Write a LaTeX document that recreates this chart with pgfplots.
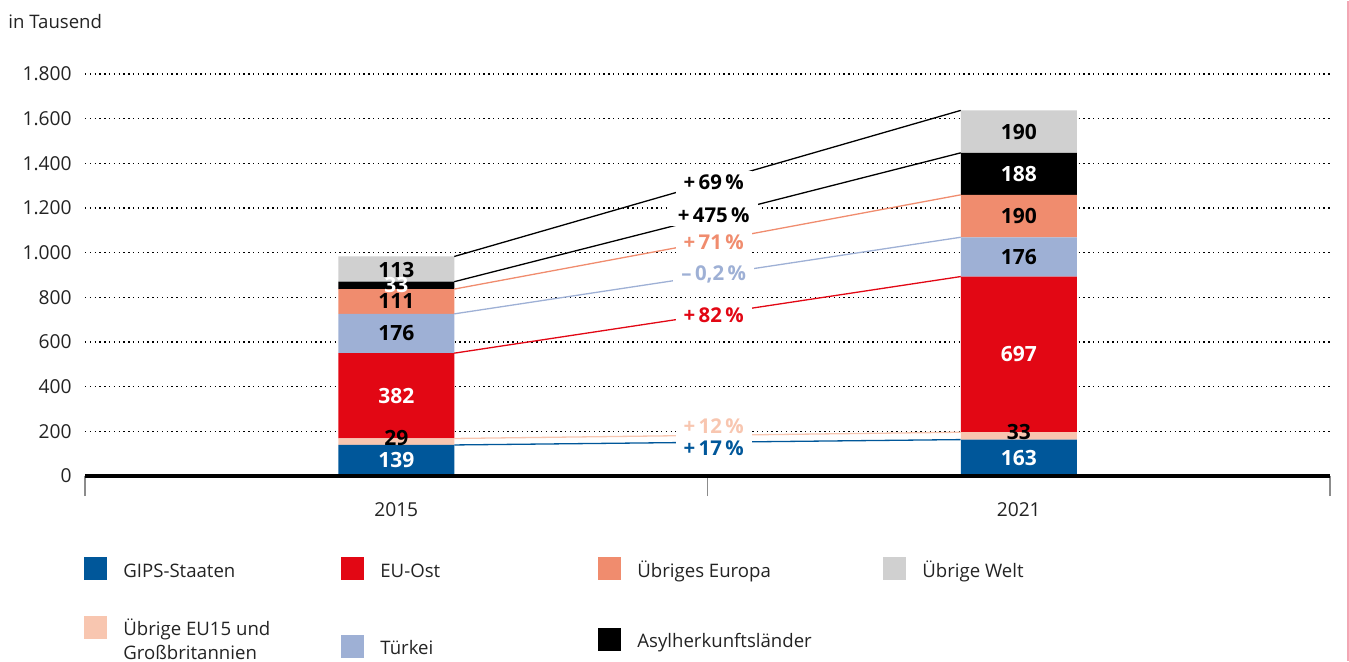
\documentclass[border=0pt]{standalone}
\usepackage{fontspec}
\setmainfont{Open Sans}
\usepackage{pgfplots}
\pgfplotsset{compat=1.18}
\definecolor{cGIPS}{RGB}{0,87,154}
\definecolor{cEUOst}{RGB}{226,7,20}
\definecolor{cEUfz}{RGB}{248,198,176}
\definecolor{cTuerkei}{RGB}{158,176,213}
\definecolor{cEuropa}{RGB}{240,140,110}
\definecolor{cAsyl}{RGB}{0,0,0}
\definecolor{cWelt}{RGB}{208,208,208}
\definecolor{cText}{RGB}{35,35,35}
\definecolor{cPink}{RGB}{244,166,180}
\pgfplotsset{
  base/.style={scale only axis, width=622.5pt, height=201pt, xmin=0, xmax=2,
    ymin=0, ymax=1800, at={(42.5pt,-237.5pt)}, anchor=south west, clip=false},
}
\tikzset{
  lab/.style={font=\bfseries\fontsize{10.5}{12}\selectfont, inner sep=0pt},
  pl/.style={font=\bfseries\fontsize{10.2}{12}\selectfont, fill=white, inner xsep=4pt, inner ysep=2pt},
  leg/.style={font=\fontsize{9.3}{11}\selectfont, text=cText, anchor=base west, inner sep=0pt},
}
\begin{document}
\begin{tikzpicture}
\begin{scope}[x=0.5pt,y=-0.5pt]
\path[use as bounding box] (0,0) rectangle (1349,660);
\end{scope}
\begin{axis}[base, ybar stacked, bar width=58pt,
  axis line style={draw=none},
  ymajorgrids, grid style={black, line width=0.7pt, dash pattern=on 0.7pt off 1.7pt},
  ytick={0,200,...,1800}, ytick style={draw=none}, ytick pos=left,
  xtick={0.5,1.5}, xticklabels={2015,2021}, minor xtick={0,1,2}, xtick pos=bottom,
  major x tick style={draw=none}, minor x tick style={draw=black!45, line width=0.8pt},
  tick align=outside, major tick length=0pt, minor tick length=10pt,
  ticklabel style={font=\fontsize{9.6}{11}\selectfont, text=cText, inner sep=0pt},
  yticklabel style={xshift=-6.5pt},
  xticklabel style={yshift=-13pt},
  /pgf/number format/1000 sep={.}, /pgf/number format/assume math mode=true,
]
\addplot[fill=cGIPS, draw=none] coordinates {(0.5,139) (1.5,163)};
\addplot[fill=cEUfz, draw=none] coordinates {(0.5,29) (1.5,33)};
\addplot[fill=cEUOst, draw=none] coordinates {(0.5,382) (1.5,697)};
\addplot[fill=cTuerkei, draw=none] coordinates {(0.5,176) (1.5,176)};
\addplot[fill=cEuropa, draw=none] coordinates {(0.5,111) (1.5,190)};
\addplot[fill=cAsyl, draw=none] coordinates {(0.5,33) (1.5,188)};
\addplot[fill=cWelt, draw=none] coordinates {(0.5,113) (1.5,190)};
\end{axis}
\begin{axis}[base, hide axis]
\draw[line width=1.6pt, black] (axis cs:0,0) -- (axis cs:2,0);
\addplot[cGIPS, line width=0.65pt] coordinates {(0.5932,139) (1.4068,163)};
\addplot[cEUfz, line width=0.65pt] coordinates {(0.5932,168) (1.4068,196)};
\addplot[cEUOst, line width=0.65pt] coordinates {(0.5932,550) (1.4068,893)};
\addplot[cTuerkei, line width=0.65pt] coordinates {(0.5932,726) (1.4068,1069)};
\addplot[cEuropa, line width=0.65pt] coordinates {(0.5932,837) (1.4068,1259)};
\addplot[black, line width=0.65pt] coordinates {(0.5932,870) (1.4068,1447)};
\addplot[black, line width=0.65pt] coordinates {(0.5932,983) (1.4068,1637)};
\node[pl, text=black] at (axis cs:1.01,1316) {+\,69\,\%};
\node[pl, text=black] at (axis cs:1.01,1169) {+\,475\,\%};
\node[pl, text=cEuropa] at (axis cs:1.01,1048) {+\,71\,\%};
\node[pl, text=cTuerkei] at (axis cs:1.01,904) {–\,0,2\,\%};
\node[pl, text=cEUOst] at (axis cs:1.01,721) {+\,82\,\%};
\node[pl, text=cEUfz] at (axis cs:1.01,224) {+\,12\,\%};
\node[pl, text=cGIPS] at (axis cs:1.01,125) {+\,17\,\%};
% labels 2015
\node[lab, white] at (axis cs:0.5,69.5) {139};
\node[lab, black] at (axis cs:0.5,168) {29};
\node[lab, white] at (axis cs:0.5,359) {382};
\node[lab, black] at (axis cs:0.5,638) {176};
\node[lab, black] at (axis cs:0.5,781.5) {111};
\node[lab, white] at (axis cs:0.5,853.5) {33};
\node[lab, black] at (axis cs:0.5,924) {113};
% labels 2021
\node[lab, white] at (axis cs:1.5,81.5) {163};
\node[lab, black] at (axis cs:1.5,195) {33};
\node[lab, white] at (axis cs:1.5,544.5) {697};
\node[lab, black] at (axis cs:1.5,981) {176};
\node[lab, black] at (axis cs:1.5,1164) {190};
\node[lab, white] at (axis cs:1.5,1353) {188};
\node[lab, black] at (axis cs:1.5,1542) {190};
\end{axis}
\begin{scope}[x=0.5pt,y=-0.5pt]
\node[leg] at (8,28) {in Tausend};
\fill[cGIPS] (84,556) rectangle (107,579);
\node[leg] at (123,576) {GIPS-Staaten};
\fill[cEUOst] (341,556) rectangle (364,579);
\node[leg] at (380,576) {EU-Ost};
\fill[cEuropa] (598,556) rectangle (621,579);
\node[leg] at (637,576) {Übriges Europa};
\fill[cWelt] (883,556) rectangle (906,579);
\node[leg] at (922,576) {Übrige Welt};
\fill[cEUfz] (84,615) rectangle (107,638);
\node[leg] at (123,634) {Übrige EU15 und};
\node[leg] at (123,658) {Großbritannien};
\fill[cTuerkei] (341,634) rectangle (364,657);
\node[leg] at (380,653) {Türkei};
\fill[cAsyl] (598,627) rectangle (621,650);
\node[leg] at (637,646) {Asylherkunftsländer};
\draw[cPink, line width=1pt] (1347.5,0) -- (1347.5,660);
\end{scope}
\end{tikzpicture}
\end{document}
